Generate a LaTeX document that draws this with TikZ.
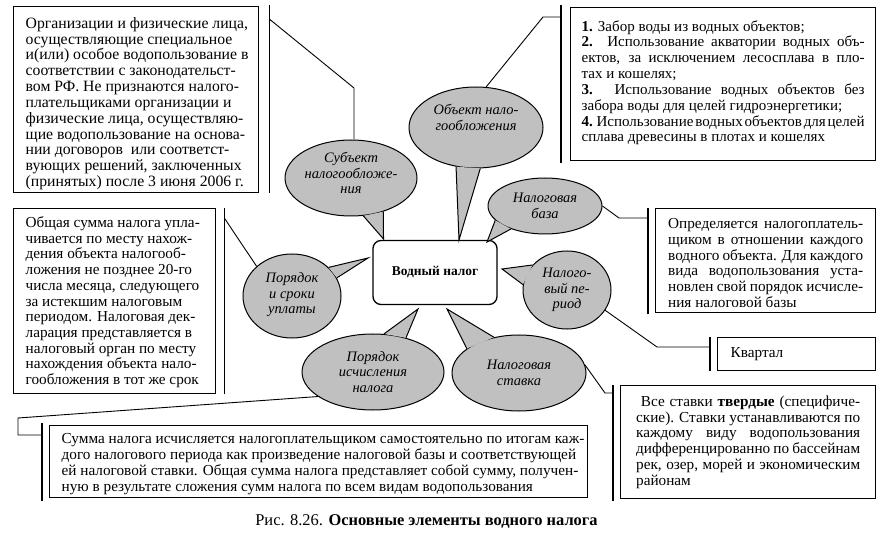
\documentclass[tikz,border=0pt]{standalone}
\usepackage{fontspec}
\setmainfont{Liberation Serif}
\usetikzlibrary{shapes.geometric,calc}
\definecolor{bub}{HTML}{C0C0C0}
\newcommand\curw{100bp}
\newcommand\jline[1]{\makebox[\curw][s]{#1}}
\newcommand\lline[1]{\makebox[\curw][l]{#1}}
\newcommand\dn[1]{\rule[-#1]{0pt}{0pt}}
\newcommand\up[1]{\rule{0pt}{#1}}
\tikzset{
  txt/.style={font=\fontsize{15.3}{15.8}\selectfont},
  box/.style={draw, line width=1.3bp, fill=white, anchor=north west, inner sep=0pt, align=left, txt},
  brk/.style={line width=1.3bp},
  con/.style={line width=0.9bp},
  bubble/.style={ellipse, draw, line width=1bp, fill=bub, inner sep=-30bp, align=center,
    font=\fontsize{14.5}{15.8}\selectfont\itshape},
  ptrfill/.style={fill=bub},
  ptrline/.style={line width=1bp},
}
\begin{document}
\begin{tikzpicture}[x=1bp,y=-1bp]
\useasboundingbox (0,0) rectangle (885,534);

% ---------- text boxes ----------
\gdef\curw{221bp}
\node[box, minimum width=245bp, minimum height=186bp, font=\fontsize{15.8}{15.9}\selectfont] (tl) at (13,6) {%
\lline{\up{19bp}Организации и физические лица,}\\
\lline{осуществляющие специальное}\\
\lline{и(или) особое водопользование в}\\
\lline{соответствии с законодательст-}\\
\lline{вом РФ. Не признаются налого-}\\
\lline{плательщиками организации и}\\
\lline{физические лица, осуществляю-}\\
\lline{щие водопользование на основа-}\\
\lline{нии договоров\ \ или соответст-}\\
\lline{вующих решений, заключенных}\\
\lline{(принятых) после 3 июня 2006 г.}};

\gdef\curw{283bp}
\node[box, minimum width=305bp, minimum height=153bp, font=\fontsize{15.1}{15.9}\selectfont] (tr) at (570,7) {%
\lline{\textbf{1.} Забор воды из водных объектов;}\\
\jline{\textbf{2.} Использование акватории водных объ-}\\
\jline{ектов, за исключением лесосплава в пло-}\\
\lline{тах и кошелях;}\\
\jline{\textbf{3.} Использование водных объектов без}\\
\lline{забора воды для целей гидроэнергетики;}\\
\jline{\spaceskip=0.17em plus 1em minus 0.05em\textbf{4.} Использование водных объектов для целей}\\
\lline{сплава древесины в плотах и кошелях\dn{6bp}}};

\gdef\curw{178bp}
\node[box, minimum width=202bp, minimum height=185bp] (lm) at (13,208) {%
\lline{\up{13bp}Общая сумма налога упла-}\\
\lline{чивается по месту нахож-}\\
\lline{дения объекта налогооб-}\\
\lline{ложения не позднее 20-го}\\
\lline{числа месяца, следующего}\\
\lline{за истекшим налоговым}\\
\lline{периодом. Налоговая дек-}\\
\lline{ларация представляется в}\\
\lline{налоговый орган по месту}\\
\lline{нахождения объекта нало-}\\
\lline{гообложения в тот же срок}};

\gdef\curw{195bp}
\node[box, minimum width=220bp, minimum height=104bp] (rm) at (655,208) {%
\jline{\up{15bp}Определяется налогоплатель-}\\
\jline{щиком в отношении каждого}\\
\jline{водного объекта. Для каждого}\\
\jline{вида водопользования уста-}\\
\jline{новлен свой порядок исчисле-}\\
\lline{ния налоговой базы}};

\gdef\curw{132bp}
\node[box, minimum width=158bp, minimum height=33bp] (kv) at (717,337) {\lline{Квартал}};

\gdef\curw{224bp}
\node[box, minimum width=255bp, minimum height=113bp] (br) at (620,385) {%
\jline{\ Все ставки \textbf{твердые} (специфиче-}\\
\jline{ские). Ставки устанавливаются по}\\
\jline{каждому виду водопользования}\\
\jline{дифференцированно по бассейнам}\\
\jline{рек, озер, морей и экономическим}\\
\lline{районам}};

\gdef\curw{514bp}
\node[box, minimum width=538bp, minimum height=72bp] (bt) at (49,425) {%
\lline{\up{15bp}Сумма налога исчисляется налогоплательщиком самостоятельно по итогам каж-}\\
\lline{дого налогового периода как произведение налоговой базы и соответствующей}\\
\lline{ей налоговой ставки. Общая сумма налога представляет собой сумму, получен-}\\
\lline{ную в результате сложения сумм налога по всем видам водопользования}};

% ---------- brackets ----------
\draw[brk] ($(tl.north east)+(10,-1)$) -- ($(tl.south east)+(10,0)$);
\draw[brk] ($(tr.north west)+(-9,-2)$) -- ($(tr.south west)+(-9,2)$);
\draw[brk] ($(lm.north east)+(8,0)$) -- ($(lm.south east)+(8,0)$);
\draw[brk] ($(rm.north west)+(-7,0)$) -- ($(rm.south west)+(-7,1)$);
\draw[brk] ($(kv.north west)+(-7,0)$) -- ($(kv.south west)+(-7,0)$);
\draw[brk] ($(br.north west)+(-7,0)$) -- ($(br.south west)+(-7,2)$);
\draw[brk] ($(bt.north west)+(-7,-2)$) -- ($(bt.south west)+(-7,3)$);

% ---------- bubbles ----------
\node[bubble, minimum width=132bp, minimum height=76bp] (subj) at (351,178) {Субъект\\налогообложе-\\ния\dn{10bp}};
\node[bubble, minimum width=134bp, minimum height=81bp] (obj) at (476,127.5) {Объект нало-\\гообложения\dn{21bp}};
\node[bubble, minimum width=114bp, minimum height=56bp] (baza) at (545,206) {Налоговая\\база};
\node[bubble, minimum width=88bp, minimum height=78bp] (per) at (567,290) {Налого-\\вый пе-\\риод};
\node[bubble, minimum width=134bp, minimum height=76bp] (stv) at (519,373) {Налоговая\\ставка};
\node[bubble, minimum width=142bp, minimum height=76bp] (isch) at (373,372) {Порядок\\исчисления\\налога};
\node[bubble, minimum width=98bp, minimum height=84bp] (upl) at (292,296) {Порядок\\и сроки\\уплаты\dn{6bp}};

% ---------- central box ----------
\node[draw, line width=1.3bp, fill=white, rounded corners=8bp, minimum width=124bp, minimum height=64bp,
  font=\fontsize{13.5}{16}\selectfont\bfseries] (c) at (435,272.5) {Водный налог};

% ---------- pointer tips ----------
\coordinate (tSubj) at (383.5,239);
\coordinate (tObj) at (459,240);
\coordinate (tBaza) at (487,242);
\coordinate (tPer) at (502,269);
\coordinate (tStv) at (447,309);
\coordinate (tIsch) at (418,309);
\coordinate (tUpl) at (368,258);

\foreach \b/\t/\aa/\ab in {subj/tSubj/-72/-46, obj/tObj/-117/-84, baza/tBaza/196/214,
    per/tPer/144/173, stv/tStv/125/155, isch/tIsch/74/46, upl/tUpl/38/22}{
  \fill[ptrfill] (\b.\aa) -- (\t) -- (\b.\ab) -- cycle;
  \draw[ptrline] (\b.\aa) -- (\t) -- (\b.\ab);
}

% ---------- connectors ----------
\coordinate (k1) at (354,88);
\draw[con] ($(tl.north east)+(10,13)$) -- (k1) -- (k1 |- subj.north);
\draw[con] ($(tr.north west)+(-9,10)$) -- ++(-18,0) -- (obj.76);
\draw[con] ($(lm.north east)+(8,10)$) -- (upl.140);
\draw[con] ($(rm.north west)+(-7,10)$) -- ++(-29,0) -- (baza.0);
\draw[con] ($(kv.north west)+(-7,10)$) -- ++(-53,0) -- (per.-28);
\draw[con] ($(br.north west)+(-7,8)$) -- ++(-8,0) -- (stv.7);
\draw[con] ($(bt.north west)+(-7,10)$) -- ++(-24,0) -- ++(0,-17) -- (isch.204);

% ---------- caption ----------
\node[font=\fontsize{16.5}{18}\selectfont, inner sep=0pt] (cap) at (426.5,521)
  {Рис. 8.26. \textbf{Основные элементы водного налога}};
\end{tikzpicture}
\end{document}
